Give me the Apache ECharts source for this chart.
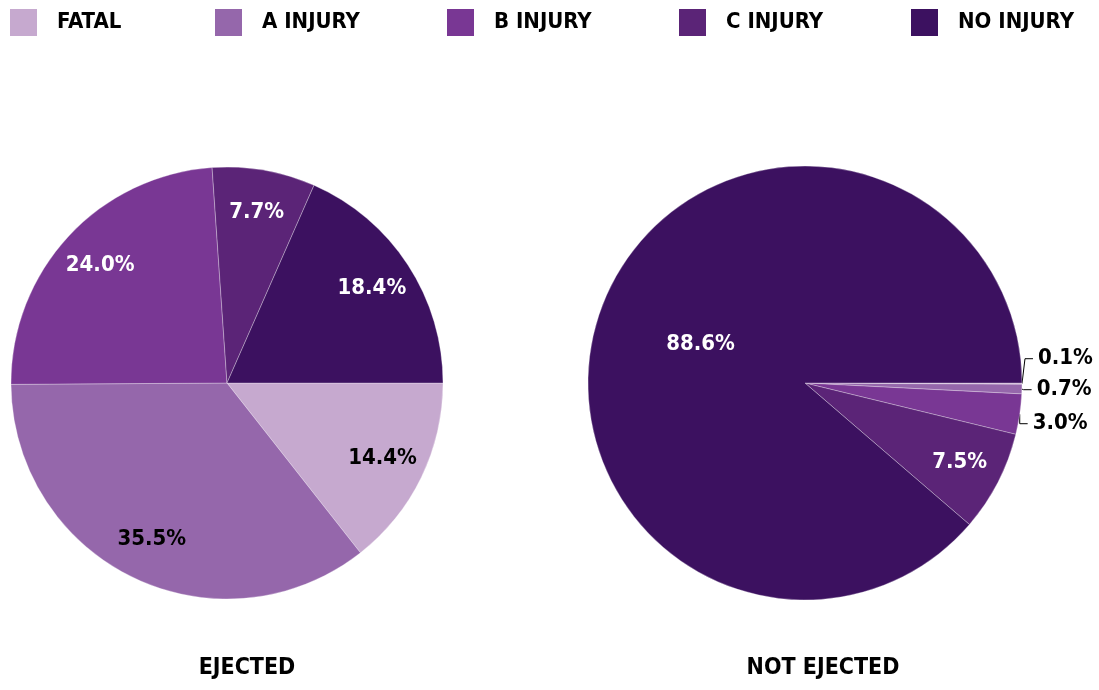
<!DOCTYPE html>
<html>
<head>
<meta charset="utf-8">
<style>
  html, body { margin: 0; padding: 0; background: #fff; }
  #chart { width: 1099px; height: 690px; }
</style>
<script src="https://cdn.jsdelivr.net/npm/echarts@6/dist/echarts.min.js"></script>
</head>
<body>
<div id="chart"></div>
<script>
const categories = ["FATAL", "A INJURY", "B INJURY", "C INJURY", "NO INJURY"];
const ejected = [14.4, 35.5, 24.0, 7.7, 18.4];
const notEjected = [0.1, 0.7, 3.0, 7.5, 88.6];
const colors = ["#c6a9cf", "#9567ab", "#793794", "#5b2477", "#3c1160"];
const labelColors = ["#000", "#000", "#fff", "#fff", "#fff"];
const titles = ["EJECTED", "NOT EJECTED"];

const font = "'Liberation Sans Narrow', 'DejaVu Sans Condensed', 'Roboto Condensed', sans-serif";
const fmt = (p) => p.value.toFixed(1) + "%";

const chart = echarts.init(document.getElementById("chart"));

// one legend per item so each one sits at its own spot
const legendLeft = [8, 213, 445, 677, 909];
const legends = categories.map((name, i) => ({
  data: [name],
  left: legendLeft[i],
  top: 7,
  padding: 0,
  itemWidth: 29,
  itemHeight: 29,
  icon: "rect",
  selectedMode: false,
  textStyle: {
    fontFamily: font,
    fontWeight: "bold",
    fontSize: 22,
    color: "#000",
    padding: [0, 0, 0, 14],
  },
}));

function mainData(values, side) {
  return values.map((v, i) => {
    const item = { name: categories[i], value: v, itemStyle: { color: colors[i] } };
    if (side === "right") {
      if (i === 4) {
        item.label = { position: "inside", color: "#fff" };
        item.labelLine = { show: false };
      } else if (i === 3) {
        item.label = { show: false };
      }
    }
    return item;
  });
}

// transparent copy, only used to put the labels further out
function labelData(values, side) {
  return values.map((v, i) => ({
    name: categories[i],
    value: v,
    label: { show: side === "left" || i === 3, color: labelColors[i] },
  }));
}

// spread the three tiny outside labels a bit, like the original
const smallLabelShift = [-25, -18, -8];

function moveSmallLabel(p) {
  if (p.dataIndex > 2 || !p.labelLinePoints) return {};
  const dy = smallLabelShift[p.dataIndex];
  const pts = p.labelLinePoints;
  return {
    dy: dy,
    labelLinePoints: [
      pts[0],
      [pts[1][0], pts[1][1] + dy],
      [pts[2][0], pts[2][1] + dy],
    ],
  };
}

chart.setOption({
  animation: false,
  title: titles.map((t, i) => ({
    text: t,
    left: i === 0 ? 247 : 823,
    top: 657,
    textAlign: "center",
    padding: 0,
    textStyle: { fontFamily: font, fontWeight: "bold", fontSize: 23, color: "#000" },
  })),
  legend: legends,
  series: [
    {
      type: "pie",
      center: [227, 383],
      radius: 216,
      startAngle: 0,
      clockwise: true,
      silent: true,
      itemStyle: { borderColor: "#fff", borderWidth: 0.3 },
      label: { show: false },
      data: mainData(ejected, "left"),
    },
    {
      type: "pie",
      center: [805, 383],
      radius: 217,
      startAngle: 0,
      clockwise: true,
      silent: true,
      itemStyle: { borderColor: "#fff", borderWidth: 0.3 },
      label: {
        show: true,
        position: "outside",
        formatter: fmt,
        fontFamily: font,
        fontWeight: "bold",
        fontSize: 22,
        color: "#000",
        overflow: "none",
      },
      labelLine: { show: true, length: 8, length2: 8, lineStyle: { color: "#000", width: 1 } },
      labelLayout: moveSmallLabel,
      data: mainData(notEjected, "right"),
    },
    {
      type: "pie",
      center: [227, 383],
      radius: 340,
      startAngle: 0,
      clockwise: true,
      silent: true,
      itemStyle: { color: "rgba(0,0,0,0)" },
      label: { position: "inside", formatter: fmt, fontFamily: font, fontWeight: "bold", fontSize: 22 },
      data: labelData(ejected, "left"),
    },
    {
      type: "pie",
      center: [805, 383],
      radius: 342,
      startAngle: 0,
      clockwise: true,
      silent: true,
      itemStyle: { color: "rgba(0,0,0,0)" },
      label: { position: "inside", formatter: fmt, fontFamily: font, fontWeight: "bold", fontSize: 22 },
      data: labelData(notEjected, "right"),
    },
  ],
});
</script>
</body>
</html>
